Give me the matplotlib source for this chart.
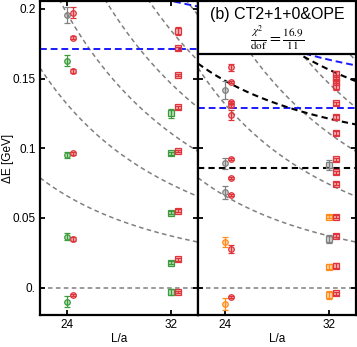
import numpy as np
import matplotlib
matplotlib.use("Agg")
import matplotlib.pyplot as plt
from matplotlib.patches import Rectangle

plt.rcParams['font.family'] = ['Liberation Sans', 'DejaVu Sans']
plt.rcParams['mathtext.fontset'] = 'stix'

# ---------------- data ----------------
L_vals = [24, 32]
red_shift = 0.5

# left panel
left_gray24 = [0.1957]; left_gray24_err = [0.0056]
left_green24 = [0.163, 0.0953, 0.0366, -0.010]
left_green24_err = [0.004, 0.0024, 0.0026, 0.0038]
left_red24 = [0.1974, 0.1794, 0.1555, 0.0965, 0.0347, -0.0052]
left_red24_err = [0.0040, 0.0012, 0.0012, 0.0010, 0.0015, 0.0008]
left_green32 = [0.125, 0.0964, 0.0538, 0.0179, -0.0033]
left_green32_err = [0.003, 0.0012, 0.0012, 0.0012, 0.002]
left_red32 = [0.1844, 0.1717, 0.1528, 0.1294, 0.0983, 0.0552, 0.0204, -0.0029]
left_red32_err = [0.0028, 0.0012, 0.0008, 0.0010, 0.0008, 0.0010, 0.0010, 0.0008]

# right panel
right_gray24 = [0.1418, 0.0892, 0.0684]
right_gray24_err = [0.0063, 0.0038, 0.0048]
right_orange24 = [0.0326, -0.0117]
right_orange24_err = [0.0036, 0.0044]
right_red24 = [0.1581, 0.1478, 0.1330, 0.1311, 0.1239, 0.0921, 0.0789, 0.0665, 0.0278, -0.0065]
right_red24_err = [0.0024, 0.0008, 0.0012, 0.0012, 0.0036, 0.0008, 0.0008, 0.0010, 0.0030, 0.0008]
right_gray32 = [0.0880, 0.0349]
right_gray32_err = [0.0036, 0.0029]
right_orange32 = [0.0509, 0.0151, -0.0052]
right_orange32_err = [0.0012, 0.0019, 0.0030]
right_red32 = [0.1535, 0.1505, 0.1478, 0.1450, 0.1323, 0.1227, 0.1112, 0.0921, 0.0828,
               0.0746, 0.0509, 0.0373, 0.0158, -0.0040]
right_red32_err = [0.002, 0.002, 0.001, 0.003, 0.001, 0.0015, 0.0015, 0.001, 0.001,
                   0.001, 0.0012, 0.0012, 0.002, 0.001]

# free-energy curves: E = coeff / L^2 (gray), thresholds + coeff / L^2
free_coeffs = [0.0, 38.0, 76.0, 113.5, 150.0, 189.0, 227.0]
left_blue_threshold = 0.171
right_blue_threshold = 0.1287
right_black_threshold = 0.0861
blue_coeffs = [0.0, 35.7, 71.4]
black_coeffs = [0.0, 36.0, 72.0, 108.0]

yticks = [0.0, 0.05, 0.1, 0.15, 0.2]
ytick_labels = ["0.", "0.05", "0.1", "0.15", "0.2"]
title_text = "(b) CT2+1+0&OPE"
chi_text = r"$\frac{\chi^2}{\mathrm{dof}}=\frac{16.9}{11}$"
ylabel_text = "ΔE [GeV]"
xlabel_text = "L/a"

# ---------------- style ----------------
RED = '#e0343c'
GREEN = '#3c9c3c'
GRAY = '#808080'
ORANGE = '#ff8c1a'
BLUE = '#1a1aff'

XLIM = (21.95, 34.07)
YLIM = (-0.0196, 0.2057)

fig = plt.figure(figsize=(3.57, 3.47), dpi=100)
axL = fig.add_axes([40/357, 32/347, 158/357, 314/347])
axR = fig.add_axes([198/357, 32/347, 158/357, 314/347])

Lgrid = np.linspace(XLIM[0], XLIM[1], 300)

def draw_curves(ax, base, coeffs, color, lw, dashes, z=1):
    for c in coeffs:
        ax.plot(Lgrid, base + c / Lgrid**2, color=color, lw=lw, dashes=dashes, zorder=z)

def pts(ax, x, ys, errs, color, marker):
    xs = [x] * len(ys)
    light = matplotlib.colors.to_rgba(color, 0.35)
    ax.errorbar(xs, ys, yerr=errs, fmt=marker, color=color, ms=4, mfc=light, mec=color,
                mew=0.9, elinewidth=0.9, capsize=2.5, capthick=0.9, zorder=5)

for ax in (axL, axR):
    ax.set_xlim(*XLIM)
    ax.set_ylim(*YLIM)
    draw_curves(ax, 0.0, free_coeffs, GRAY, 1.1, (3, 2.2))
    ax.set_xticks(L_vals)
    ax.set_xticklabels([str(v) for v in L_vals], fontsize=8.5)
    ax.set_yticks(yticks)
    ax.tick_params(direction='in', length=3.5, width=1.3, top=True, right=True, pad=3)
    for s in ax.spines.values():
        s.set_linewidth(1.6)
    ax.set_xlabel(xlabel_text, fontsize=8.5, labelpad=1)

axL.set_yticklabels(ytick_labels, fontsize=8.5)
axR.set_yticklabels([])
fig.text(7.5/357, 1 - 158/347, ylabel_text, rotation=90, ha='center', va='center',
         fontsize=8.5)

# left panel lines
draw_curves(axL, left_blue_threshold, blue_coeffs, BLUE, 1.4, (3.5, 2), z=2)
# right panel lines
draw_curves(axR, right_blue_threshold, blue_coeffs, BLUE, 1.4, (3.5, 2), z=2)
draw_curves(axR, right_black_threshold, black_coeffs, 'black', 1.5, (3, 2), z=2)

# left points
pts(axL, L_vals[0], left_gray24, left_gray24_err, GRAY, 'o')
pts(axL, L_vals[0], left_green24, left_green24_err, GREEN, 'o')
pts(axL, L_vals[0] + red_shift, left_red24, left_red24_err, RED, 'o')
pts(axL, L_vals[1], left_green32, left_green32_err, GREEN, 's')
pts(axL, L_vals[1] + red_shift, left_red32, left_red32_err, RED, 's')

# right points
pts(axR, L_vals[0], right_gray24, right_gray24_err, GRAY, 'o')
pts(axR, L_vals[0], right_orange24, right_orange24_err, ORANGE, 'o')
pts(axR, L_vals[0] + red_shift, right_red24, right_red24_err, RED, 'o')
pts(axR, L_vals[1], right_gray32, right_gray32_err, GRAY, 's')
pts(axR, L_vals[1], right_orange32, right_orange32_err, ORANGE, 's')
pts(axR, L_vals[1] + red_shift, right_red32, right_red32_err, RED, 's')

# title box
box_bottom = (315 - 54) / 314
axR.add_patch(Rectangle((0, box_bottom), 1, 1.0 - box_bottom, transform=axR.transAxes,
                        facecolor='white', edgecolor='black', lw=1.6, zorder=10, clip_on=False))
axR.text(0.5, 0.958, title_text, transform=axR.transAxes, ha='center', va='center',
         fontsize=11.5, zorder=11)
axR.text(0.5, 0.882, chi_text, transform=axR.transAxes, ha='center', va='center',
         fontsize=11.5, zorder=11)

fig.savefig("out.png", dpi=100)
